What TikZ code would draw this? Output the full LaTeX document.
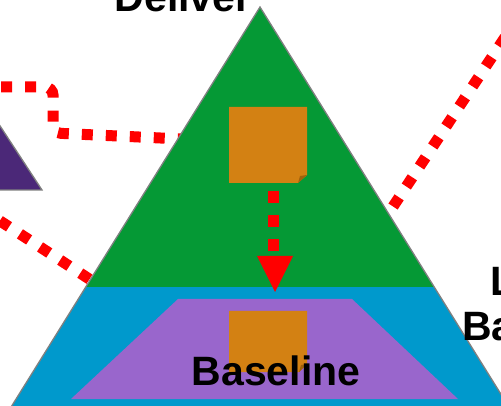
\documentclass[tikz,border=0pt]{standalone}
\usepackage{fontspec}
\setmainfont{Liberation Sans}
\definecolor{tgreen}{HTML}{059935}
\definecolor{tblue}{HTML}{0099CC}
\definecolor{tpurple}{HTML}{9966CC}
\definecolor{torange}{HTML}{D38113}
\definecolor{tfold}{HTML}{A0620C}
\definecolor{tdark}{HTML}{4B2878}
\definecolor{tedge}{HTML}{808080}
\tikzset{
  reddots/.style={draw=red, line width=11pt, dash pattern=on 11pt off 13pt},
  label/.style={font=\fontsize{41}{47}\selectfont\bfseries, inner sep=0pt, text=black},
  edgeline/.style={draw=tedge, line width=1.3pt}
}
\begin{document}
\begin{tikzpicture}[x=1pt,y=-1pt]
\useasboundingbox (0,0) rectangle (501,406);
\clip (0,0) rectangle (501,406);
\fill[white] (0,0) rectangle (501,406);

% connector end points
\coordinate (l1s) at (1,87);
\coordinate (l1a) at (53,87);
\coordinate (l1b) at (53,133);
\coordinate (l1e) at (182,139);
\coordinate (l2s) at (-20.3,207.7);
\coordinate (l2e) at (90,279.5);
\coordinate (l3s) at (518.3,17.2);
\coordinate (l3e) at (393,206.6);

% small dark triangle
\path[fill=tdark, edgeline] (-30,80) -- (42,190) -- (-100,190) -- cycle;

% red dotted lines behind the big triangle
\draw[reddots, rounded corners=8pt] (l1s) -- (l1a) -- (l1b) -- (l1e);
\draw[reddots] (l2s) -- (l2e);

% big triangle
\fill[tblue] (260,7) -- (517,420) -- (3,420) -- cycle;
\fill[tgreen] (260,7) -- (434,287) -- (86,287) -- cycle;
\draw[edgeline] (3,420) -- (260,7) -- (517,420);

% inner trapezoid
\fill[tpurple] (178,299) -- (352,299) -- (458,399) -- (71,399) -- cycle;

% orange squares with folded corner
\fill[torange] (229,107) -- (307,107) -- (307,175) -- (298,183) -- (229,183) -- cycle;
\fill[tfold] (298,183) -- (300,176) -- (307,175) -- cycle;
\fill[torange] (229,311) -- (307,311) -- (307,364) -- (299,372) -- (229,372) -- cycle;
\fill[tfold] (299,372) -- (301,365) -- (307,364) -- cycle;

% vertical arrow
\coordinate (a1) at (273,191);
\coordinate (a2) at (273,252);
\coordinate (tip) at (275,292);
\draw[reddots, dash pattern=on 12pt off 12pt] (a1) -- (a2);
\fill[red] (257,256) -- (293,256) -- (tip) -- cycle;

% diagonal dotted line on the right
\draw[reddots] (l3s) -- (l3e);

% labels
\node[label, anchor=base] (deliver) at (183,12) {Deliver};
\node[label, anchor=base] (baseline) at (276,385) {Baseline};
\node[label, anchor=base] (latest2) at (551,295) {Latest};
\node[label, anchor=base west] (baseline2) at (462,341) {Baseline};
\end{tikzpicture}
\end{document}
